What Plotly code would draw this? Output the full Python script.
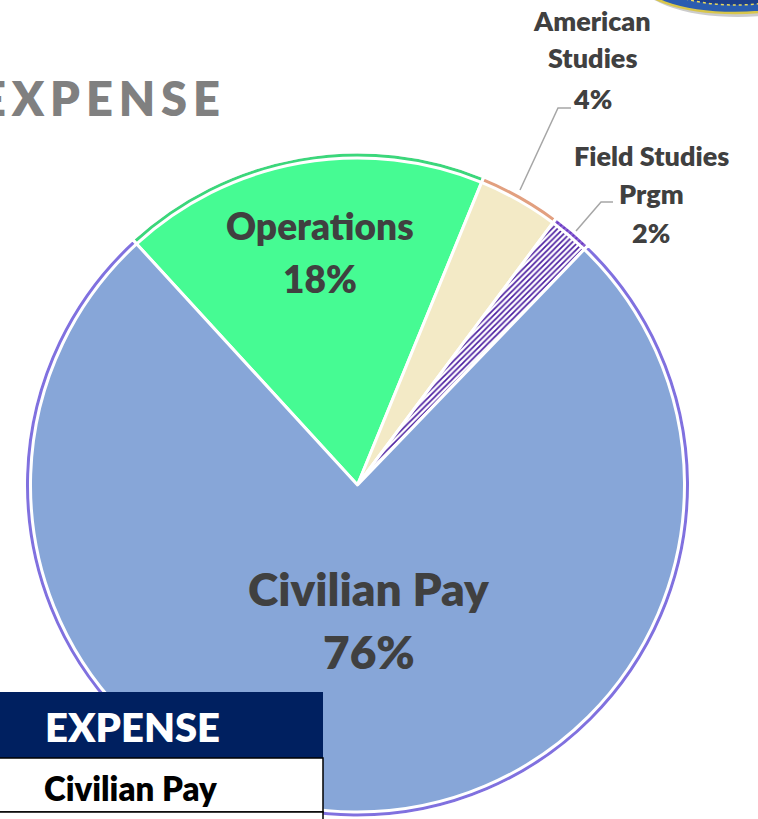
import plotly.graph_objects as go

# ---- data ----
categories = ["Operations", "American Studies", "Field Studies Prgm", "Civilian Pay"]
values = [18, 4, 2, 76]
label_lines = [["Operations", "18%"], ["American", "Studies", "4%"],
               ["Field Studies", "Prgm", "2%"], ["Civilian Pay", "76%"]]
title_text = "EXPENSE"
table_header = "EXPENSE"
table_rows = ["Civilian Pay"]

W, H = 758, 819
def px(x): return x / W
def py(y): return 1 - y / H

fill_colors = ["#46FB93", "#F3EAC6", "#C2A0EE", "#87A6D8"]
rim_colors = ["rgba(40,150,80,0.35)", "rgba(215,110,80,0.6)", "rgba(110,60,200,0.8)", "rgba(125,95,225,0.75)"]
patterns = ["", "", "/", ""]

domain = dict(x=[px(24.5), px(690.5)], y=[py(818), py(152)])

fig = go.Figure()
fig.add_trace(go.Pie(
    labels=categories, values=values, sort=False, direction="clockwise",
    rotation=-42.5, domain=domain, textinfo="none", showlegend=False,
    marker=dict(colors=fill_colors, line=dict(color="white", width=3),
                pattern=dict(shape=patterns, fgcolor="#4A1CA0", size=4, solidity=0.4)),
))
# soft rim on the outer edge
fig.add_trace(go.Pie(
    labels=categories, values=values, sort=False, direction="clockwise",
    rotation=-42.5, domain=domain, textinfo="none", showlegend=False, hole=0.982,
    hoverinfo="skip",
    marker=dict(colors=rim_colors, line=dict(color="white", width=3)),
))

dark = "#404040"
font_name = "Lato"
ann = []
def add_lines(lines, cx, ys, size, color=dark, xanchor="center", weight=800):
    for t, y in zip(lines, ys):
        ann.append(dict(x=px(cx), y=py(y), xref="paper", yref="paper", text=t,
                        showarrow=False, xanchor=xanchor, yanchor="middle",
                        font=dict(family=font_name, size=size, color=color, weight=weight)))

add_lines(label_lines[0], 320, [225, 278], 37)
add_lines(label_lines[1], 592, [20, 58, 98], 27)
add_lines(label_lines[2], 651, [155, 193, 232], 27)
add_lines(label_lines[3], 369, [588, 651], 46)

# title (letter-spaced, cut off at the left edge)
sp = "\u2009"
spaced = sp.join(list(title_text))
ann.append(dict(x=px(222), y=py(98), xref="paper", yref="paper", text=spaced,
                showarrow=False, xanchor="right", yanchor="middle",
                font=dict(family=font_name, size=47, color="#808080", weight=800)))

# table
add_lines([table_header], 43, [727], 40, color="white", xanchor="left")
add_lines([table_rows[0]], 42, [788], 33, color="black", xanchor="left")

shapes = []
# leader lines
shapes.append(dict(type="path", xref="paper", yref="paper",
                   path=f"M {px(520)} {py(190)} L {px(558)} {py(108)} L {px(571)} {py(108)}",
                   line=dict(color="#A6A6A6", width=1.5)))
shapes.append(dict(type="path", xref="paper", yref="paper",
                   path=f"M {px(576)} {py(231)} L {px(601)} {py(202)} L {px(613)} {py(202)}",
                   line=dict(color="#A6A6A6", width=1.5)))
# table boxes
shapes.append(dict(type="rect", xref="paper", yref="paper", x0=px(0), x1=px(323), y0=py(758), y1=py(692),
                   fillcolor="#002060", line=dict(width=0), layer="above"))
shapes.append(dict(type="rect", xref="paper", yref="paper", x0=px(-5), x1=px(323), y0=py(812), y1=py(758),
                   fillcolor="white", line=dict(color="black", width=1.5), layer="above"))
shapes.append(dict(type="rect", xref="paper", yref="paper", x0=px(-5), x1=px(323), y0=py(840), y1=py(812),
                   fillcolor="white", line=dict(color="black", width=1.5), layer="above"))
# partial seal at top right
shapes.append(dict(type="circle", xref="paper", yref="paper", x0=px(638), x1=px(838), y0=py(17), y1=py(-58),
                   fillcolor="rgba(110,110,110,0.35)", line=dict(width=0), layer="above"))
shapes.append(dict(type="circle", xref="paper", yref="paper", x0=px(635), x1=px(835), y0=py(13), y1=py(-60),
                   fillcolor="#2A5CB0", line=dict(color="#D8C64A", width=2.5), layer="above"))
shapes.append(dict(type="circle", xref="paper", yref="paper", x0=px(650), x1=px(820), y0=py(5), y1=py(-60),
                   fillcolor="#1D3F8A", line=dict(color="#E8D85A", width=1.5, dash="dot"), layer="above"))

fig.update_layout(
    width=W, height=H, margin=dict(l=0, r=0, t=0, b=0),
    paper_bgcolor="white", plot_bgcolor="white",
    annotations=ann, shapes=shapes,
)
fig.write_html("out.html", config={"displayModeBar": False},
               post_script="document.body.style.margin='0';document.body.style.overflow='hidden';")
